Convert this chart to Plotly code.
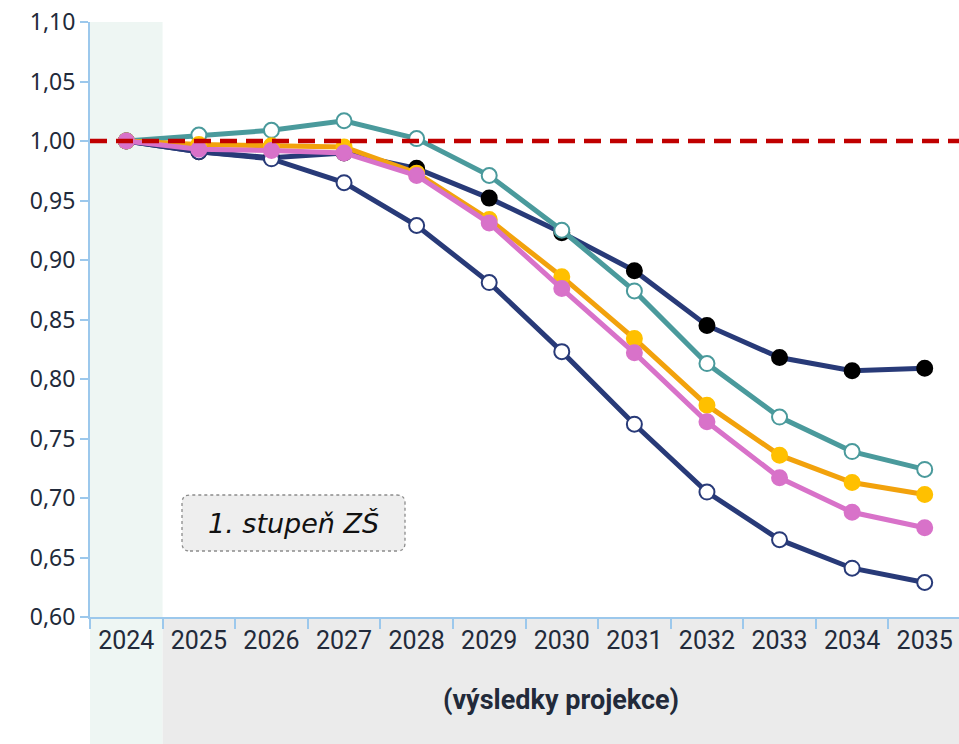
import plotly.graph_objects as go

years = ["2024", "2025", "2026", "2027", "2028", "2029", "2030", "2031", "2032", "2033", "2034", "2035"]

navy_black = [1.000, 0.991, 0.986, 0.990, 0.977, 0.952, 0.923, 0.891, 0.845, 0.818, 0.807, 0.809]
navy_open = [1.000, 0.991, 0.985, 0.965, 0.929, 0.881, 0.823, 0.762, 0.705, 0.665, 0.641, 0.629]
teal_open = [1.000, 1.005, 1.009, 1.017, 1.002, 0.971, 0.925, 0.874, 0.813, 0.768, 0.739, 0.724]
orange = [1.000, 0.997, 0.996, 0.995, 0.973, 0.934, 0.886, 0.834, 0.778, 0.736, 0.713, 0.703]
pink = [1.000, 0.993, 0.992, 0.990, 0.971, 0.931, 0.876, 0.822, 0.764, 0.717, 0.688, 0.675]

y_ticks = [0.60, 0.65, 0.70, 0.75, 0.80, 0.85, 0.90, 0.95, 1.00, 1.05, 1.10]
box_label = "1. stupeň ZŠ"
x_title = "(výsledky projekce)"

NAVY = "#283A78"
TEAL = "#4A9A9C"
ORANGE_LINE = "#F2A20C"
ORANGE_MK = "#FFC000"
PINK = "#D872C9"
AXIS = "#9CC8EC"
TXT = "#222A3A"

# plot area in page pixels: x 90..961, y 22..617
PW, PH = 871, 595

fig = go.Figure()


def add(y, line_color, fill, outline, name):
    fig.add_trace(go.Scatter(
        x=years, y=y, mode="lines+markers", name=name,
        line=dict(color=line_color, width=5),
        marker=dict(size=15, color=fill, line=dict(color=outline, width=2)),
        showlegend=False, cliponaxis=False,
    ))


add(navy_black, NAVY, "#000000", "#000000", "navy filled")
add(navy_open, NAVY, "#FFFFFF", NAVY, "navy open")
add(teal_open, TEAL, "#FFFFFF", TEAL, "teal")
add(orange, ORANGE_LINE, ORANGE_MK, ORANGE_MK, "orange")
add(pink, PINK, PINK, PINK, "pink")

# shaded base-year column and projection band
fig.add_shape(type="rect", xref="x", yref="paper", x0=-0.5, x1=0.5, y0=-0.3, y1=1.0,
              fillcolor="#EEF6F3", line=dict(width=0), layer="below")
fig.add_shape(type="rect", xref="x", yref="paper", x0=0.5, x1=11.6, y0=-0.3, y1=0.0,
              fillcolor="#EBEBEB", line=dict(width=0), layer="below")

# red dashed reference line at 1.00
fig.add_shape(type="line", xref="paper", yref="y", x0=0, x1=1, y0=1.0, y1=1.0,
              line=dict(color="#C00000", width=4.5, dash="17px,9px"), layer="above")

# rounded dotted box
x0, x1 = (182 - 90) / PW, (405 - 90) / PW
y1, y0 = 1 - (495 - 22) / PH, 1 - (551 - 22) / PH
rx, ry = 8 / PW, 8 / PH
path = (f"M {x0+rx},{y0} L {x1-rx},{y0} Q {x1},{y0} {x1},{y0+ry} "
        f"L {x1},{y1-ry} Q {x1},{y1} {x1-rx},{y1} L {x0+rx},{y1} "
        f"Q {x0},{y1} {x0},{y1-ry} L {x0},{y0+ry} Q {x0},{y0} {x0+rx},{y0} Z")
fig.add_shape(type="path", xref="paper", yref="paper", path=path,
              fillcolor="#EEEEEE", line=dict(color="#8C8C8C", width=1.3, dash="dot"), layer="above")
fig.add_annotation(xref="paper", yref="paper", x=(293 - 90) / PW, y=1 - (523 - 22) / PH,
                   text="<i>" + box_label + "</i>",
                   showarrow=False, font=dict(family="DejaVu Sans", size=27, color="#111111"),
                   xanchor="center", yanchor="middle")

fig.add_annotation(xref="paper", yref="paper", x=(561 - 90) / PW, y=-(700 - 617) / PH,
                   text="<b>" + x_title + "</b>", showarrow=False,
                   font=dict(family="Roboto", size=27, color=TXT),
                   xanchor="center", yanchor="middle")

fig.update_layout(
    width=961, height=744,
    margin=dict(l=90, r=0, t=22, b=127, autoexpand=False),
    paper_bgcolor="white", plot_bgcolor="rgba(0,0,0,0)",
    separators=", ",
    xaxis=dict(
        type="category", range=[-0.5, 11.5], automargin=False,
        showgrid=False, zeroline=False, ticklabeloverflow="allow",
        showline=True, linecolor=AXIS, linewidth=2,
        ticks="outside", tickson="boundaries", ticklen=10, tickcolor=AXIS, tickwidth=1.5,
        tickfont=dict(family="Roboto", size=25, color=TXT),
    ),
    yaxis=dict(
        range=[0.60, 1.10], tickvals=y_ticks, tickformat=".2f", automargin=False,
        showgrid=False, zeroline=False, ticklabeloverflow="allow",
        showline=True, linecolor=AXIS, linewidth=2,
        ticks="outside", ticklen=8, tickcolor=AXIS, tickwidth=1.5,
        tickfont=dict(family="Noto Sans", size=23, color=TXT),
    ),
)

fig.write_html("out.html", config={"displayModeBar": False},
               post_script="document.body.style.margin='0';document.body.style.overflow='hidden';")
